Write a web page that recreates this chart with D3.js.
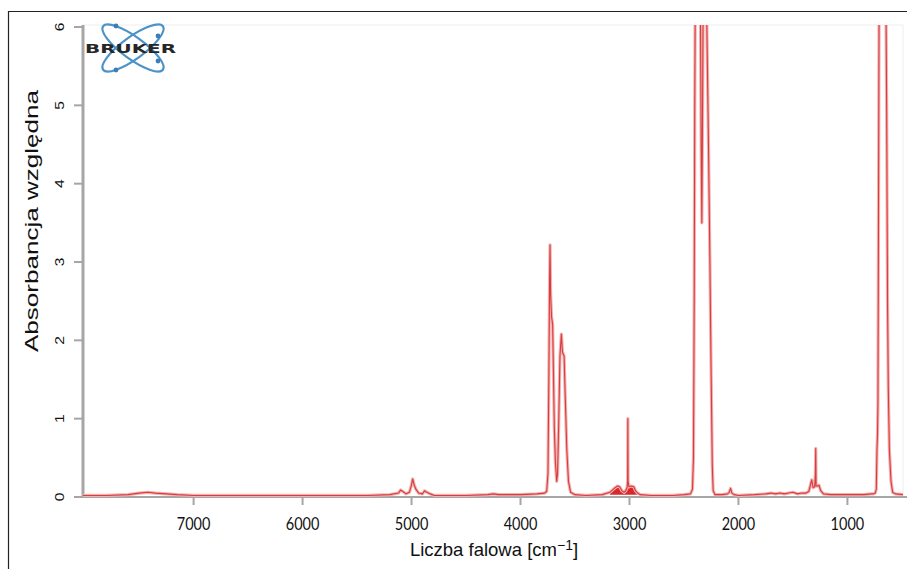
<!DOCTYPE html>
<html>
<head>
<meta charset="utf-8">
<script src="https://cdn.jsdelivr.net/npm/d3@7"></script>
<style>
  body { margin: 0; background: #fff; }
  svg { display: block; }
</style>
</head>
<body>
<div id="chart"></div>
<script>
const width = 907;
const height = 569;

const colorLine = '#d83c3c';
const colorHalo = '#f3b2b2';
const colorAxis = '#a6a6a6';

// spectrum: wavenumber [cm-1] and relative absorbance
const waves = [
  8015, 7800, 7600, 7500, 7420, 7350, 7250, 7150, 7000, 6600, 6200, 5800, 5400, 5200,
  5120, 5100, 5080, 5050, 5020, 5003, 4990, 4975, 4960, 4935, 4900, 4880, 4860, 4830, 4790,
  4500, 4300, 4250, 4200, 4000, 3850, 3780, 3760, 3748, 3740, 3733, 3729, 3724, 3715, 3705,
  3698, 3690, 3680, 3668, 3660, 3650, 3638, 3625, 3615, 3600, 3590, 3575, 3560, 3540, 3500,
  3400, 3250, 3180, 3140, 3110, 3090, 3070, 3050, 3035, 3022, 3017, 3015, 3013, 3005, 2985,
  2960, 2945, 2925, 2900, 2800, 2600, 2500, 2440, 2422, 2413, 2406, 2401, 2396, 2385, 2365,
  2350, 2342, 2336, 2330, 2322, 2305, 2290, 2275, 2262, 2250, 2240, 2232, 2215, 2150, 2100,
  2085, 2072, 2060, 2040, 2000, 1850, 1750, 1700, 1660, 1620, 1580, 1540, 1500, 1460, 1420,
  1380, 1355, 1340, 1328, 1315, 1300, 1294, 1291, 1288, 1275, 1261, 1245, 1220, 1150, 1050,
  950, 850, 780, 760, 745, 735, 729, 724, 720, 716, 712, 708, 690, 667, 650, 640, 632,
  625, 615, 600, 585, 560, 490
];
const absorb = [
  0.02, 0.02, 0.03, 0.05, 0.06, 0.05, 0.04, 0.03, 0.02, 0.02, 0.02, 0.02, 0.02, 0.03,
  0.05, 0.09, 0.07, 0.04, 0.06, 0.14, 0.23, 0.15, 0.10, 0.05, 0.04, 0.08, 0.06, 0.04, 0.02,
  0.02, 0.03, 0.04, 0.03, 0.03, 0.04, 0.05, 0.07, 0.3, 1.5, 2.8, 3.22, 2.6, 2.3, 2.2,
  1.6, 0.9, 0.45, 0.2, 0.3, 0.9, 1.8, 2.08, 1.85, 1.8, 1.3, 0.6, 0.2, 0.06, 0.03,
  0.02, 0.03, 0.06, 0.11, 0.14, 0.13, 0.08, 0.06, 0.08, 0.12, 0.2, 1.0, 0.2, 0.13, 0.14,
  0.13, 0.08, 0.05, 0.03, 0.02, 0.02, 0.03, 0.04, 0.1, 0.5, 2.5, 5.0, 6.5, 7.5, 7.5,
  6.5, 4.5, 3.5, 4.8, 6.8, 7.2, 6.0, 4.5, 3.0, 1.5, 0.4, 0.08, 0.03, 0.03, 0.04,
  0.06, 0.11, 0.05, 0.03, 0.02, 0.03, 0.04, 0.05, 0.04, 0.05, 0.04, 0.05, 0.06, 0.04, 0.05,
  0.05, 0.07, 0.15, 0.22, 0.12, 0.13, 0.3, 0.62, 0.14, 0.14, 0.15, 0.08, 0.04, 0.03, 0.03,
  0.03, 0.03, 0.04, 0.04, 0.05, 0.1, 0.6, 0.8, 1.2, 3.0, 5.0, 7.0, 8.0, 8.0, 7.0, 5.0, 2.5,
  1.4, 0.6, 0.2, 0.06, 0.04, 0.03
];

const xTicks = [7000, 6000, 5000, 4000, 3000, 2000, 1000];
const yTicks = [0, 1, 2, 3, 4, 5, 6];

const spectrum = waves.map((w, i) => ({ w: w, a: absorb[i] }));

const margin = { left: 83, right: 903, top: 25, bottom: 497 };

const x = d3.scaleLinear().domain([8015, 490]).range([margin.left, margin.right]);
const y = d3.scaleLinear().domain([0, 6]).range([margin.bottom, 27]);

const svg = d3.select('#chart')
    .append('svg')
    .attr('width', width)
    .attr('height', height);

// frame of the figure (only top and left are visible)
svg.append('path')
    .attr('d', 'M8.5,' + height + 'V11.5H' + width)
    .attr('fill', 'none')
    .attr('stroke', '#222')
    .attr('stroke-width', 1.2);

// faint plot box
svg.append('rect')
    .attr('x', margin.left)
    .attr('y', margin.top)
    .attr('width', margin.right - margin.left)
    .attr('height', margin.bottom - margin.top)
    .attr('fill', '#fff')
    .attr('stroke', '#eeeeee');

svg.append('clipPath').attr('id', 'clip')
  .append('rect')
    .attr('x', margin.left)
    .attr('y', margin.top)
    .attr('width', margin.right - margin.left + 4)
    .attr('height', margin.bottom - margin.top + 3);

// logo
const logo = svg.append('g').attr('transform', 'translate(133,48)');
[-36, 36].forEach(function (ang) {
    logo.append('ellipse')
        .attr('rx', 37)
        .attr('ry', 11)
        .attr('transform', 'rotate(' + ang + ')')
        .attr('fill', 'none')
        .attr('stroke', '#4b92c9')
        .attr('stroke-width', 2.2);
});
[[-17, -22], [-17, 22], [25, -12], [25, 13]].forEach(function (p) {
    logo.append('circle')
        .attr('cx', p[0]).attr('cy', p[1]).attr('r', 2.4)
        .attr('fill', '#3a7fb8');
});
logo.append('text')
    .attr('x', -48)
    .attr('y', 5)
    .attr('textLength', 91)
    .attr('lengthAdjust', 'spacingAndGlyphs')
    .style('font-family', '"DejaVu Sans", sans-serif')
    .style('font-weight', 'bold')
    .style('font-size', '13px')
    .style('fill', '#262626')
    .text('BRUKER');

// axes
svg.append('line')
    .attr('x1', margin.left).attr('x2', margin.left)
    .attr('y1', margin.top).attr('y2', margin.bottom + 1)
    .attr('stroke', colorAxis).attr('stroke-width', 3);

svg.append('line')
    .attr('x1', margin.left).attr('x2', margin.right + 4)
    .attr('y1', margin.bottom).attr('y2', margin.bottom)
    .attr('stroke', colorAxis).attr('stroke-width', 2);

svg.selectAll('.ytick')
    .data(yTicks)
    .enter().append('line')
    .attr('class', 'ytick')
    .attr('x1', 74).attr('x2', margin.left)
    .attr('y1', d => y(d)).attr('y2', d => y(d))
    .attr('stroke', colorAxis).attr('stroke-width', 2);

svg.selectAll('.ylab')
    .data(yTicks)
    .enter().append('text')
    .attr('class', 'ylab')
    .attr('transform', d => 'translate(64,' + y(d) + ') scale(1,1.3) rotate(-90)')
    .attr('text-anchor', 'middle')
    .style('font-family', '"Liberation Sans", Arial, sans-serif')
    .style('font-size', '12px')
    .style('fill', '#111')
    .text(d => d);

svg.selectAll('.xtick')
    .data(xTicks)
    .enter().append('line')
    .attr('class', 'xtick')
    .attr('x1', d => x(d)).attr('x2', d => x(d))
    .attr('y1', margin.bottom).attr('y2', margin.bottom + 8)
    .attr('stroke', colorAxis).attr('stroke-width', 2);

svg.selectAll('.xlab')
    .data(xTicks)
    .enter().append('text')
    .attr('class', 'xlab')
    .attr('transform', d => 'translate(' + x(d) + ',530) scale(1,1.2)')
    .attr('text-anchor', 'middle')
    .style('font-family', 'Lato, "Open Sans", sans-serif')
    .style('font-size', '14.5px')
    .style('fill', '#111')
    .text(d => d);

// axis titles
svg.append('text')
    .attr('transform', 'translate(38,221) rotate(-90)')
    .attr('text-anchor', 'middle')
    .attr('textLength', 262)
    .attr('lengthAdjust', 'spacingAndGlyphs')
    .style('font-family', '"Liberation Sans", Arial, sans-serif')
    .style('font-size', '18px')
    .style('fill', '#111')
    .text('Absorbancja względna');

const xTitle = svg.append('text')
    .attr('x', 494)
    .attr('y', 556)
    .attr('text-anchor', 'middle')
    .style('font-family', '"Liberation Sans", Arial, sans-serif')
    .style('font-size', '18.5px')
    .style('fill', '#111');
xTitle.append('tspan').text('Liczba falowa [cm');
xTitle.append('tspan').attr('dy', -6).style('font-size', '14px').text('−1');
xTitle.append('tspan').attr('dy', 6).text(']');

// spectrum
const plot = svg.append('g').attr('clip-path', 'url(#clip)');

const line = d3.line().x(d => x(d.w)).y(d => y(d.a));
const area = d3.area().x(d => x(d.w)).y0(y(0.03)).y1(d => y(d.a));

// the filled bands near 3000 cm-1
plot.append('path')
    .datum(spectrum.filter(d => d.w <= 3180 && d.w >= 2925))
    .attr('d', area)
    .attr('fill', '#d8282a');

plot.append('path')
    .datum(spectrum)
    .attr('d', line)
    .attr('fill', 'none')
    .attr('stroke', colorHalo)
    .attr('stroke-width', 3.2)
    .attr('stroke-linejoin', 'round');

plot.append('path')
    .datum(spectrum)
    .attr('d', line)
    .attr('fill', 'none')
    .attr('stroke', colorLine)
    .attr('stroke-width', 1.1)
    .attr('stroke-linejoin', 'round');
</script>
</body>
</html>
